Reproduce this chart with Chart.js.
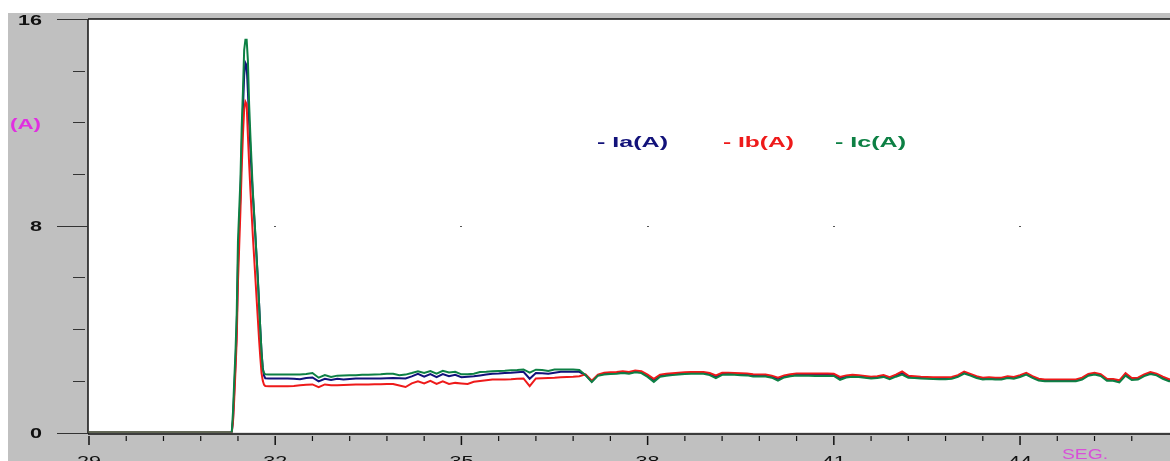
<!DOCTYPE html>
<html>
<head>
<meta charset="utf-8">
<title>Corriente de arranque</title>
<script src="https://cdn.jsdelivr.net/npm/chart.js@4.4.1/dist/chart.umd.min.js"></script>
<style>
  html, body { margin: 0; padding: 0; background: #fff; }
  canvas { display: block; }
</style>
</head>
<body>
<canvas id="grafico" width="1170" height="461"></canvas>
<script>
// Tiempo en segundos (pico de arranque muestreado más fino)
const tiempo = [
  28.98, 31.30, 31.32, 31.34, 31.36, 31.38, 31.40, 31.42, 31.44, 31.46, 31.48,
  31.50, 31.52, 31.54, 31.56, 31.58, 31.60, 31.62, 31.64, 31.66, 31.68, 31.70,
  31.72, 31.74, 31.76, 31.78, 31.80, 31.82, 31.84,
  31.9, 32.0, 32.1, 32.2, 32.3, 32.4, 32.5, 32.6, 32.7, 32.8, 32.9,
  33.0, 33.1, 33.2, 33.3, 33.4, 33.5, 33.6, 33.7, 33.8, 33.9,
  34.0, 34.1, 34.2, 34.3, 34.4, 34.5, 34.6, 34.7, 34.8, 34.9,
  35.0, 35.1, 35.2, 35.3, 35.4, 35.5, 35.6, 35.7, 35.8, 35.9,
  36.0, 36.1, 36.2, 36.3, 36.4, 36.5, 36.6, 36.7, 36.8, 36.9,
  37.0, 37.1, 37.2, 37.3, 37.4, 37.5, 37.6, 37.7, 37.8, 37.9,
  38.0, 38.1, 38.2, 38.3, 38.4, 38.5, 38.6, 38.7, 38.8, 38.9,
  39.0, 39.1, 39.2, 39.3, 39.4, 39.5, 39.6, 39.7, 39.8, 39.9,
  40.0, 40.1, 40.2, 40.3, 40.4, 40.5, 40.6, 40.7, 40.8, 40.9,
  41.0, 41.1, 41.2, 41.3, 41.4, 41.5, 41.6, 41.7, 41.8, 41.9,
  42.0, 42.1, 42.2, 42.3, 42.4, 42.5, 42.6, 42.7, 42.8, 42.9,
  43.0, 43.1, 43.2, 43.3, 43.4, 43.5, 43.6, 43.7, 43.8, 43.9,
  44.0, 44.1, 44.2, 44.3, 44.4, 44.5, 44.6, 44.7, 44.8, 44.9,
  45.0, 45.1, 45.2, 45.3, 45.4, 45.5, 45.6, 45.7, 45.8, 45.9,
  46.0, 46.1, 46.2, 46.3, 46.4, 46.5
];

// Ia(A)
const ia = [
  0, 0, 0.5, 1.6, 2.7, 4.0, 6.5, 8.0, 9.2, 11.0, 12.5,
  13.8, 14.3, 14.2, 13.2, 12.0, 11.0, 10.0, 9.2, 8.4, 7.6, 6.8,
  6.0, 5.0, 4.0, 3.1, 2.5, 2.2, 2.1,
  2.09, 2.09, 2.09, 2.09, 2.08, 2.06, 2.11, 2.13, 1.98, 2.08, 2.03,
  2.08, 2.05, 2.07, 2.09, 2.09, 2.09, 2.09, 2.09, 2.10, 2.11,
  2.10, 2.09, 2.17, 2.27, 2.16, 2.26, 2.14, 2.26, 2.18, 2.23,
  2.14, 2.16, 2.18, 2.21, 2.24, 2.27, 2.28, 2.30, 2.31, 2.33,
  2.35, 2.08, 2.30, 2.29, 2.27, 2.31, 2.35, 2.35, 2.35, 2.35,
  2.22, 1.97, 2.22, 2.27, 2.29, 2.30, 2.33, 2.30, 2.36, 2.33,
  2.20, 2.03, 2.20, 2.23, 2.25, 2.27, 2.29, 2.30, 2.30, 2.30,
  2.26, 2.16, 2.27, 2.27, 2.26, 2.25, 2.24, 2.21, 2.20, 2.20,
  2.16, 2.07, 2.17, 2.21, 2.24, 2.24, 2.24, 2.24, 2.24, 2.24,
  2.23, 2.10, 2.17, 2.19, 2.18, 2.15, 2.12, 2.14, 2.18, 2.10,
  2.20, 2.30, 2.16, 2.14, 2.12, 2.11, 2.10, 2.10, 2.10, 2.11,
  2.18, 2.32, 2.23, 2.14, 2.08, 2.10, 2.08, 2.08, 2.14, 2.11,
  2.18, 2.27, 2.14, 2.04, 2.01, 2.01, 2.01, 2.01, 2.01, 2.01,
  2.08, 2.23, 2.27, 2.22, 2.04, 2.03, 1.98, 2.25, 2.07, 2.08,
  2.21, 2.30, 2.24, 2.12, 2.02, 2.01
];

// Ib(A)
const ib = [
  0, 0, 0.4, 1.3, 2.4, 3.6, 5.8, 7.2, 8.6, 10.2, 11.5,
  12.5, 12.8, 12.7, 11.5, 10.4, 9.4, 8.5, 7.6, 6.8, 6.0, 5.2,
  4.4, 3.6, 2.9, 2.3, 2.0, 1.85, 1.8,
  1.79, 1.79, 1.79, 1.79, 1.80, 1.83, 1.85, 1.86, 1.75, 1.86, 1.83,
  1.83, 1.84, 1.85, 1.86, 1.86, 1.86, 1.87, 1.87, 1.88, 1.88,
  1.82, 1.76, 1.90, 1.98, 1.90, 2.00, 1.88, 1.98, 1.88, 1.92,
  1.90, 1.88, 1.96, 1.99, 2.02, 2.05, 2.05, 2.05, 2.06, 2.08,
  2.09, 1.79, 2.09, 2.10, 2.11, 2.12, 2.14, 2.15, 2.16, 2.18,
  2.25, 2.00, 2.24, 2.31, 2.33, 2.34, 2.37, 2.34, 2.40, 2.37,
  2.24, 2.08, 2.24, 2.27, 2.29, 2.31, 2.33, 2.34, 2.34, 2.34,
  2.30, 2.21, 2.31, 2.31, 2.30, 2.29, 2.28, 2.25, 2.24, 2.24,
  2.20, 2.12, 2.21, 2.25, 2.28, 2.28, 2.28, 2.28, 2.28, 2.28,
  2.27, 2.15, 2.21, 2.23, 2.22, 2.19, 2.16, 2.18, 2.22, 2.14,
  2.24, 2.36, 2.20, 2.18, 2.16, 2.15, 2.14, 2.14, 2.14, 2.15,
  2.22, 2.36, 2.27, 2.18, 2.12, 2.14, 2.12, 2.12, 2.18, 2.15,
  2.22, 2.31, 2.18, 2.08, 2.05, 2.05, 2.05, 2.05, 2.05, 2.05,
  2.12, 2.27, 2.31, 2.26, 2.08, 2.07, 2.02, 2.30, 2.11, 2.12,
  2.25, 2.34, 2.28, 2.16, 2.06, 2.05
];

// Ic(A)
const ic = [
  0, 0, 0.8, 2.0, 3.1, 4.6, 7.4, 8.6, 9.8, 11.8, 13.2,
  14.8, 15.2, 15.2, 14.4, 12.7, 11.5, 10.4, 9.3, 8.5, 7.7, 6.8,
  5.9, 5.0, 4.0, 3.1, 2.45, 2.3, 2.25,
  2.24, 2.24, 2.24, 2.24, 2.24, 2.24, 2.26, 2.30, 2.12, 2.22, 2.15,
  2.20, 2.21, 2.22, 2.22, 2.23, 2.23, 2.24, 2.25, 2.27, 2.27,
  2.22, 2.24, 2.30, 2.37, 2.30, 2.38, 2.28, 2.39, 2.32, 2.35,
  2.25, 2.25, 2.27, 2.34, 2.35, 2.37, 2.38, 2.39, 2.41, 2.42,
  2.44, 2.32, 2.43, 2.42, 2.38, 2.44, 2.44, 2.44, 2.44, 2.42,
  2.22, 1.95, 2.20, 2.24, 2.26, 2.27, 2.30, 2.27, 2.33, 2.30,
  2.15, 1.96, 2.16, 2.20, 2.22, 2.24, 2.26, 2.27, 2.27, 2.27,
  2.22, 2.10, 2.23, 2.24, 2.23, 2.22, 2.21, 2.17, 2.17, 2.17,
  2.12, 2.01, 2.13, 2.18, 2.21, 2.20, 2.20, 2.19, 2.19, 2.19,
  2.19, 2.04, 2.13, 2.16, 2.15, 2.12, 2.09, 2.11, 2.15, 2.06,
  2.16, 2.24, 2.12, 2.11, 2.09, 2.08, 2.07, 2.06, 2.06, 2.08,
  2.15, 2.28, 2.20, 2.11, 2.05, 2.07, 2.05, 2.05, 2.11, 2.08,
  2.15, 2.24, 2.11, 2.01, 1.98, 1.98, 1.98, 1.98, 1.98, 1.98,
  2.05, 2.20, 2.24, 2.19, 2.00, 2.00, 1.94, 2.20, 2.03, 2.05,
  2.18, 2.26, 2.21, 2.08, 1.98, 1.98
];

const etiquetasY = [0, 8, 16];
const marcasY = [2, 4, 6, 10, 12, 14];
const etiquetasX = [29, 32, 35, 38, 41, 44];
const marcasX = [29.6, 30.2, 30.8, 31.4, 32.6, 33.2, 33.8, 34.4, 35.6, 36.2, 36.8, 37.4,
  38.6, 39.2, 39.8, 40.4, 41.6, 42.2, 42.8, 43.4, 44.6, 45.2, 45.8];
const series = ["Ia(A)", "Ib(A)", "Ic(A)"];
const colores = ["#12127a", "#ee1a1a", "#0d8044"];

// texto ensanchado horizontalmente hasta un ancho dado
function textoAncho(ctx, txt, x, y, ancho, align) {
  const w = ctx.measureText(txt).width;
  ctx.save();
  ctx.translate(x, y);
  ctx.scale(ancho / w, 1);
  ctx.textAlign = align;
  ctx.fillText(txt, 0, 0);
  ctx.restore();
}

const marco = {
  id: "marco",
  beforeDraw(chart) {
    const { ctx, chartArea: a, width, height } = chart;
    const sx = chart.scales.x, sy = chart.scales.y;
    ctx.save();
    ctx.fillStyle = "#ffffff";
    ctx.fillRect(0, 0, width, height);
    ctx.fillStyle = "#c0c0c0";
    ctx.fillRect(8, 13, width - 8, height - 13);
    ctx.fillStyle = "#ffffff";
    ctx.fillRect(a.left, a.top, a.right - a.left, a.bottom - a.top);

    // puntos de rejilla en 8 A
    ctx.fillStyle = "#555";
    etiquetasX.slice(1).forEach(v => {
      ctx.fillRect(Math.round(sx.getPixelForValue(v)) - 1, Math.round(sy.getPixelForValue(8)), 2, 1);
    });

    // bordes
    ctx.strokeStyle = "#111";
    ctx.lineWidth = 1.5;
    ctx.beginPath();
    ctx.moveTo(a.left, a.top);
    ctx.lineTo(a.right, a.top);
    ctx.moveTo(a.left, a.top);
    ctx.lineTo(a.left, a.bottom + 1.5);
    ctx.moveTo(a.left, a.bottom + 1.5);
    ctx.lineTo(a.right, a.bottom + 1.5);
    ctx.stroke();

    // marcas eje Y
    ctx.strokeStyle = "#333";
    ctx.lineWidth = 1;
    ctx.beginPath();
    etiquetasY.forEach(v => {
      const y = Math.round(sy.getPixelForValue(v)) + 0.5;
      ctx.moveTo(57, y);
      ctx.lineTo(a.left, y);
    });
    marcasY.forEach(v => {
      const y = Math.round(sy.getPixelForValue(v)) + 0.5;
      ctx.moveTo(73, y);
      ctx.lineTo(85, y);
    });
    ctx.stroke();

    // marcas eje X
    ctx.strokeStyle = "#111";
    ctx.lineWidth = 1.5;
    ctx.beginPath();
    etiquetasX.forEach(v => {
      const x = sx.getPixelForValue(v);
      ctx.moveTo(x, 436);
      ctx.lineTo(x, 445);
    });
    ctx.stroke();
    ctx.lineWidth = 1.2;
    ctx.beginPath();
    marcasX.forEach(v => {
      const x = sx.getPixelForValue(v);
      ctx.moveTo(x, 436);
      ctx.lineTo(x, 441);
    });
    ctx.stroke();

    // etiquetas
    ctx.fillStyle = "#111";
    ctx.font = "bold 15px 'Liberation Sans', Arial, sans-serif";
    etiquetasY.forEach(v => {
      const t = String(v);
      textoAncho(ctx, t, 42, sy.getPixelForValue(v) + 5.5, t.length * 12, "right");
    });
    ctx.font = "15px 'Liberation Sans', Arial, sans-serif";
    etiquetasX.forEach(v => {
      textoAncho(ctx, String(v), sx.getPixelForValue(v), 466, 24, "center");
    });

    ctx.fillStyle = "#e030e0";
    ctx.font = "bold 14px 'Liberation Sans', Arial, sans-serif";
    textoAncho(ctx, "(A)", 10, 129, 31, "left");
    ctx.fillStyle = "#d850d8";
    ctx.font = "15px 'Liberation Sans', Arial, sans-serif";
    textoAncho(ctx, "SEG.", 1062, 459, 46, "left");

    // leyenda
    ctx.font = "bold 15px 'Liberation Sans', Arial, sans-serif";
    const posLeyenda = [597, 723, 835];
    series.forEach((s, i) => {
      ctx.fillStyle = colores[i];
      textoAncho(ctx, "- " + s, posLeyenda[i], 147, 71, "left");
    });
    ctx.restore();
  }
};

const puntos = arr => tiempo.map((t, i) => ({ x: t, y: arr[i] }));

new Chart(document.getElementById("grafico"), {
  type: "line",
  data: {
    datasets: [
      { label: series[0], data: puntos(ia), borderColor: colores[0], order: 2 },
      { label: series[1], data: puntos(ib), borderColor: colores[1], order: 1 },
      { label: series[2], data: puntos(ic), borderColor: colores[2], order: 0 }
    ]
  },
  options: {
    responsive: false,
    animation: false,
    layout: { padding: { left: 88, top: 19, right: 0, bottom: 28.5 } },
    elements: {
      line: { borderWidth: 2, tension: 0, fill: false },
      point: { radius: 0 }
    },
    scales: {
      x: { type: "linear", min: 28.984, max: 46.416, display: false },
      y: { min: 0, max: 16, display: false }
    },
    plugins: {
      legend: { display: false },
      tooltip: { enabled: false }
    }
  },
  plugins: [marco]
});
</script>
</body>
</html>
